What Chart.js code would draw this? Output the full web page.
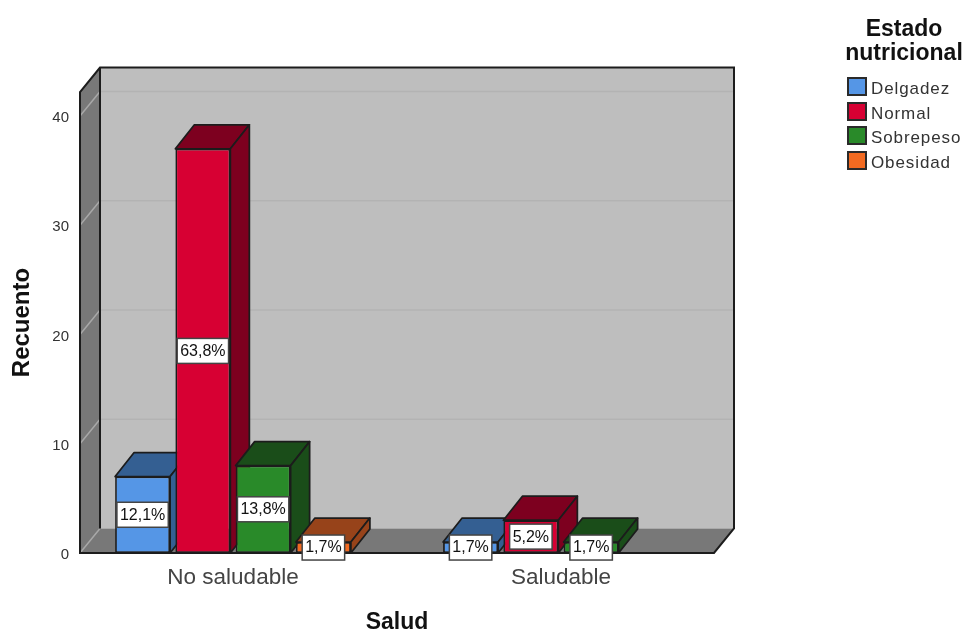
<!DOCTYPE html>
<html lang="es">
<head>
<meta charset="utf-8">
<title>Recuento por Salud</title>
<script src="https://cdn.jsdelivr.net/npm/chart.js@4"></script>
<style>
  html, body { margin: 0; background: #fff; }
  #wrap { position: relative; width: 967px; height: 631px; overflow: hidden; font-family: "Liberation Sans", Arial, sans-serif; }
  #chart { position: absolute; left: 0; top: 0; }
  #legendTitle { position: absolute; left: 834px; top: 16px; width: 140px; text-align: center; font-weight: bold; font-size: 23px; line-height: 24px; color: #111; }
  .swatch { position: absolute; left: 847px; width: 16px; height: 15px; border: 2px solid #2a2a2a; }
  .entry { position: absolute; left: 871px; font-size: 17px; letter-spacing: 0.9px; line-height: 20px; color: #333; }
</style>
</head>
<body>
<div id="wrap">
  <canvas id="chart" width="967" height="631"></canvas>
  <div id="legendTitle">Estado<br>nutricional</div>
</div>
<script>
const categories = ["No saludable", "Saludable"];
const seriesNames = ["Delgadez", "Normal", "Sobrepeso", "Obesidad"];

// Recuento per Salud group
const delgadez = [7, 1];
const normal = [37, 3];
const sobrepeso = [8, 1];
const obesidad = [1, null];
const seriesValues = [delgadez, normal, sobrepeso, obesidad];

const frontColors = ["#5596e6", "#d70033", "#298a29", "#f26a21"];
const depthColors = ["#345f92", "#7d001f", "#1a4d19", "#97431a"];

const yTickStep = 10;
const yMax = 42.2;

// Oblique offset of the 3D box
const depthX = 19;
const depthY = 24;
const wallX = 20;
const wallY = 24.5;
const wallInset = 11;
const edge = "#1c1c1c";

const total = seriesValues.flat().reduce((sum, v) => sum + (v || 0), 0);

function percentText(count) {
  return ((count / total) * 100).toFixed(1).replace(".", ",") + "%";
}

function polygon(ctx, points, fill) {
  ctx.beginPath();
  points.forEach(([x, y], i) => (i ? ctx.lineTo(x, y) : ctx.moveTo(x, y)));
  ctx.closePath();
  if (fill) {
    ctx.fillStyle = fill;
    ctx.fill();
  }
}

function line(ctx, x1, y1, x2, y2) {
  ctx.beginPath();
  ctx.moveTo(x1, y1);
  ctx.lineTo(x2, y2);
  ctx.stroke();
}

// Walls, floor and grid lines behind the bars
function drawFrame(chart) {
  const { ctx, chartArea, scales } = chart;
  const left = chartArea.left + wallInset;
  const right = chartArea.right - wallInset;
  const top = chartArea.top;
  const bottom = chartArea.bottom;
  const wall = "#787878";

  ctx.save();
  polygon(ctx, [[left + wallX, top - wallY], [right + wallX, top - wallY], [right + wallX, bottom - wallY], [left + wallX, bottom - wallY]], "#bebebe");
  polygon(ctx, [[left, top], [left + wallX, top - wallY], [left + wallX, bottom - wallY], [left, bottom]], wall);
  polygon(ctx, [[left, bottom], [left + wallX, bottom - wallY], [right + wallX, bottom - wallY], [right, bottom]], wall);

  ctx.lineWidth = 1.5;
  scales.y.ticks.forEach((tick) => {
    const y = scales.y.getPixelForValue(tick.value);
    ctx.strokeStyle = "#a8a8a8";
    line(ctx, left, y, left + wallX, y - wallY);
    if (tick.value > 0) {
      ctx.strokeStyle = "#b3b3b3";
      line(ctx, left + wallX, y - wallY, right + wallX, y - wallY);
    }
  });

  ctx.strokeStyle = edge;
  ctx.lineWidth = 2;
  polygon(ctx, [[left, bottom], [left, top], [left + wallX, top - wallY], [right + wallX, top - wallY], [right + wallX, bottom - wallY], [right, bottom]]);
  ctx.stroke();
  line(ctx, left + wallX, top - wallY, left + wallX, bottom - wallY);
  ctx.restore();
}

// Bars go left to right so each one covers the side of its neighbour,
// the percentage tags go on last
const boxBars = {
  id: "boxBars",
  beforeDatasetsDraw(chart) {
    const { ctx } = chart;
    drawFrame(chart);

    chart.data.datasets.forEach((dataset, d) => {
      chart.getDatasetMeta(d).data.forEach((bar, i) => {
        if (dataset.data[i] === null) return;
        const half = bar.width / 2;
        const l = bar.x - half;
        const r = bar.x + half;
        ctx.save();
        ctx.strokeStyle = edge;
        ctx.lineWidth = 1.75;
        ctx.lineJoin = "round";
        polygon(ctx, [[l, bar.y], [l + depthX, bar.y - depthY], [r + depthX, bar.y - depthY], [r, bar.y]], depthColors[d]);
        ctx.stroke();
        polygon(ctx, [[r, bar.y], [r + depthX, bar.y - depthY], [r + depthX, bar.base - depthY], [r, bar.base]], depthColors[d]);
        ctx.stroke();
        ctx.restore();
        bar.draw(ctx);
      });
    });

    ctx.save();
    ctx.font = "16px 'Liberation Sans'";
    ctx.textAlign = "center";
    ctx.textBaseline = "middle";
    chart.data.datasets.forEach((dataset, d) => {
      chart.getDatasetMeta(d).data.forEach((bar, i) => {
        const count = dataset.data[i];
        if (count === null) return;
        const text = percentText(count);
        const w = ctx.measureText(text).width + 6;
        const h = 25;
        const cy = (bar.y + bar.base) / 2;
        ctx.fillStyle = "#fff";
        ctx.strokeStyle = "#444";
        ctx.lineWidth = 1.5;
        ctx.fillRect(bar.x - w / 2, cy - h / 2, w, h);
        ctx.strokeRect(bar.x - w / 2, cy - h / 2, w, h);
        ctx.fillStyle = "#111";
        ctx.fillText(text, bar.x, cy + 0.5);
      });
    });
    ctx.restore();
    return false;
  },
};

// Legend entries
const wrap = document.getElementById("wrap");
seriesNames.forEach((name, i) => {
  const swatch = document.createElement("div");
  swatch.className = "swatch";
  swatch.style.top = 77 + i * 24.6 + "px";
  swatch.style.background = frontColors[i];
  wrap.appendChild(swatch);

  const entry = document.createElement("div");
  entry.className = "entry";
  entry.style.top = 79 + i * 24.6 + "px";
  entry.textContent = name;
  wrap.appendChild(entry);
});

new Chart(document.getElementById("chart"), {
  type: "bar",
  data: {
    labels: categories,
    datasets: seriesNames.map((name, i) => ({
      label: name,
      data: seriesValues[i],
      backgroundColor: frontColors[i],
      borderColor: edge,
      borderWidth: 1.75,
      borderSkipped: false,
      categoryPercentage: 0.735,
      barPercentage: 0.912,
    })),
  },
  options: {
    responsive: false,
    animation: false,
    layout: { padding: { top: 92, right: 242, left: 0, bottom: 0 } },
    plugins: {
      legend: { display: false },
      tooltip: { enabled: false },
    },
    scales: {
      x: {
        offset: true,
        grid: { display: false, drawTicks: false },
        border: { display: false },
        ticks: {
          font: { family: "Liberation Sans", size: 22.5 },
          color: "#444",
          padding: 11,
          maxRotation: 0,
        },
        title: {
          display: true,
          text: "Salud",
          font: { family: "Liberation Sans", size: 23, weight: "bold", lineHeight: 1 },
          color: "#111",
          padding: { top: 0, bottom: -3.5 },
        },
        afterFit(scale) {
          scale.height = 78;
        },
      },
      y: {
        min: 0,
        max: yMax,
        grid: { display: false, drawTicks: false },
        border: { display: false },
        ticks: {
          stepSize: yTickStep,
          includeBounds: false,
          font: { family: "Liberation Sans", size: 15 },
          color: "#333",
          padding: 0,
          labelOffset: 2,
        },
        title: {
          display: true,
          text: "Recuento",
          font: { family: "Liberation Sans", size: 24, weight: "bold", lineHeight: 1 },
          color: "#111",
          padding: { top: 10, bottom: 0 },
        },
        afterFit(scale) {
          scale.width = 69;
        },
      },
    },
  },
  plugins: [boxBars],
});
</script>
</body>
</html>
